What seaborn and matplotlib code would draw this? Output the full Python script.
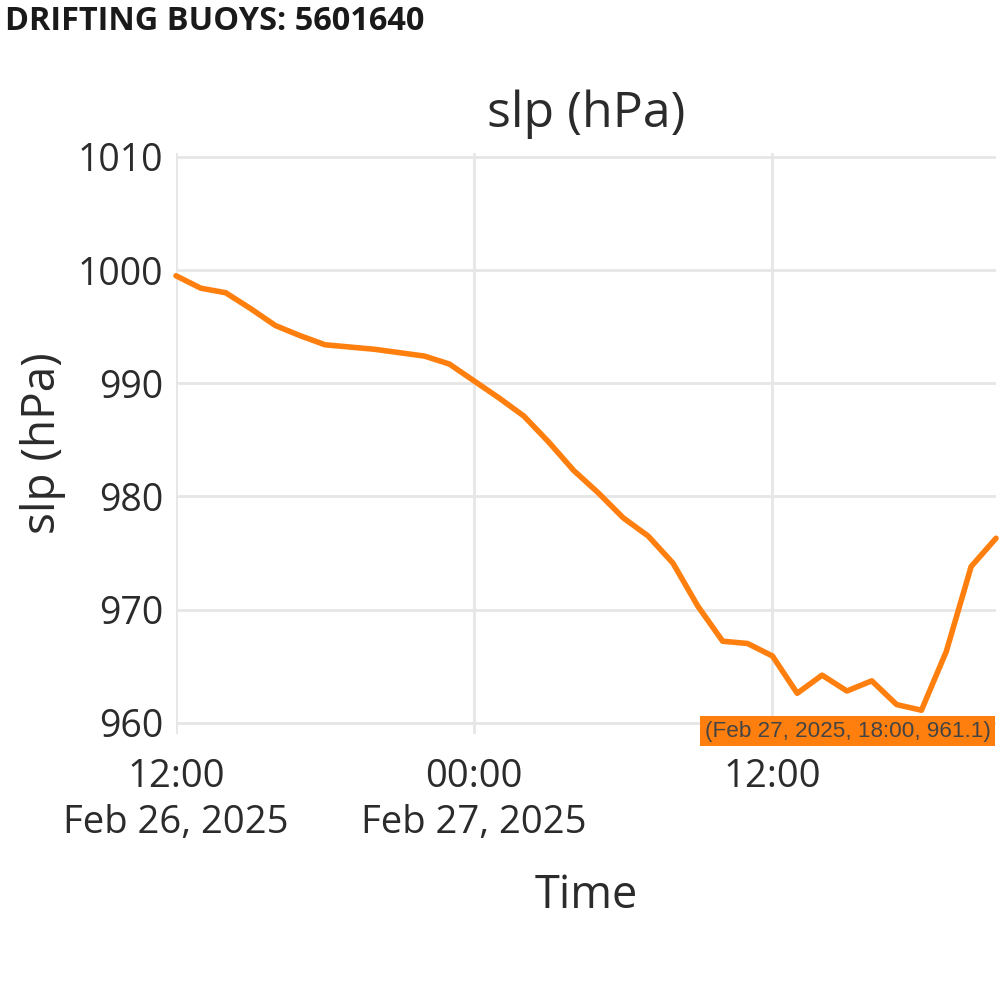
import matplotlib
matplotlib.use("Agg")
import matplotlib.pyplot as plt
import pandas as pd
import seaborn as sns

# hourly sea level pressure, buoy 5601640
times = pd.date_range("2025-02-26 12:00", "2025-02-27 21:00", freq="h")
slp = [
    999.5, 998.4, 998.0, 996.6, 995.1, 994.2, 993.4, 993.2, 993.0, 992.7,
    992.4, 991.7, 990.2, 988.7, 987.1, 984.8, 982.3, 980.3, 978.1, 976.5,
    974.1, 970.3, 967.2, 967.0, 965.9, 962.6, 964.2, 962.8, 963.7, 961.6,
    961.1, 966.3, 973.8, 976.3,
]
y_ticks = [960, 970, 980, 990, 1000, 1010]
x_ticks = pd.to_datetime(["2025-02-26 12:00", "2025-02-27 00:00", "2025-02-27 12:00"])
x_tick_labels = ["12:00\nFeb 26, 2025", "00:00\nFeb 27, 2025", "12:00"]
hover_time = pd.Timestamp("2025-02-27 18:00")
hover_value = 961.1

df = pd.DataFrame({"time": times, "slp": slp})

sns.set_style("white")
plt.rcParams["font.family"] = ["Open Sans", "DejaVu Sans"]

TEXT = "#2b2b2b"
GRID = "#e6e6e6"
ORANGE = "#ff7f0e"

fig = plt.figure(figsize=(10, 10), dpi=100)
ax = fig.add_axes([0.176, 0.266, 0.820, 0.581])

sns.lineplot(data=df, x="time", y="slp", ax=ax, color=ORANGE, linewidth=4,
             clip_on=False, zorder=3)

ax.set_xlim(times[0], times[-1])
ax.set_ylim(959.0, 1010.35)
ax.set_yticks(y_ticks)
ax.set_xticks(x_ticks)
ax.set_xticklabels(x_tick_labels, linespacing=1.3)

for side in ax.spines.values():
    side.set_visible(False)
ax.grid(True, color=GRID, linewidth=2)
ax.tick_params(axis="y", length=6, width=2, color=GRID, pad=3,
               labelsize=27, labelcolor=TEXT)
ax.tick_params(axis="x", length=8, width=2, color=GRID, pad=9,
               labelsize=27.5, labelcolor=TEXT)

ax.set_title("slp (hPa)", fontsize=36, color=TEXT, pad=19)
ax.set_xlabel("Time", fontsize=32.5, color=TEXT, labelpad=22)
ax.set_ylabel("slp (hPa)", fontsize=33, color=TEXT, labelpad=9)

# hover label of the minimum
ax.annotate(
    f"({hover_time:%b %d, %Y, %H:%M}, {hover_value})",
    xy=(hover_time, hover_value), xytext=(-53, -15), textcoords="offset points",
    ha="center", va="center", fontsize=16.2, color="#444444",
    family=["Liberation Sans", "DejaVu Sans"],
    bbox=dict(boxstyle="square,pad=0.2", facecolor=ORANGE, edgecolor="none"),
    zorder=5, annotation_clip=False,
)

fig.text(0.005, 0.979, "DRIFTING BUOYS: 5601640", fontsize=23.4, fontweight="bold",
         color="#1a1a1a", ha="left", va="center")

fig.savefig("out.png", dpi=100, facecolor="white")
